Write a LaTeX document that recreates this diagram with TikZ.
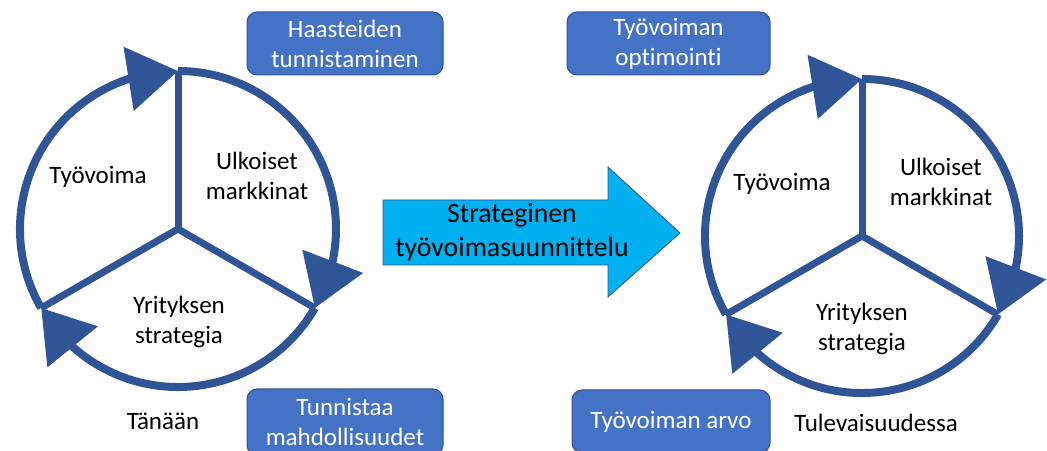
\documentclass[tikz,border=0pt]{standalone}
\usepackage{fontspec}
\setmainfont{Carlito}[Ligatures=NoCommon]
\usetikzlibrary{arrows.meta,bending}
\definecolor{ringblue}{HTML}{2F5597}
\definecolor{boxfill}{HTML}{4472C4}
\definecolor{boxedge}{HTML}{2F528F}
\definecolor{arrowfill}{HTML}{00B0F0}
\begin{document}
\begin{tikzpicture}[x=1pt,y=1pt,
  cyc/.style={draw=ringblue, line width=8pt,
    -{Triangle[length=50pt,width=63pt,flex]}},
  spoke/.style={draw=ringblue, line width=7pt},
  lbl/.style={font=\fontsize{25}{30.5}\selectfont, align=center, inner sep=0pt},
  tag/.style={draw=boxedge, line width=1pt, fill=boxfill, rounded corners=10pt,
    text=white, font=\fontsize{25}{30}\selectfont, align=center, inner sep=0pt},
]
\useasboundingbox (0,0) rectangle (1047,450);
\clip (0,0) rectangle (1047,450);

% ---- left cycle: today ----
\coordinate (lc) at (178,221);
\path (lc) ++(90:158) coordinate (ltop)
      (lc) ++(210:158) coordinate (lleft)
      (lc) ++(-30:158) coordinate (lright);
\draw[spoke] (lc) -- (ltop);
\draw[spoke] (lc) -- (lleft);
\draw[spoke] (lc) -- (lright);
\draw[cyc] (lleft) arc[start angle=210, end angle=90, radius=158];
\draw[cyc] (ltop) arc[start angle=90, end angle=-30, radius=158];
\draw[cyc] (lright) arc[start angle=-30, end angle=-150, radius=158];
\node[lbl] (lwork) at (98,273) {Työvoima};
\node[lbl] (lmarket) at (257,274) {Ulkoiset\\markkinat};
\node[lbl] (lstrat) at (179,128) {Yrityksen\\strategia};
\node[lbl] (today) at (163,29) {Tänään};

% ---- right cycle: future ----
\coordinate (rc) at (862,214);
\path (rc) ++(90:157) coordinate (rtop)
      (rc) ++(210:157) coordinate (rleft)
      (rc) ++(-30:157) coordinate (rright);
\draw[spoke] (rc) -- (rtop);
\draw[spoke] (rc) -- (rleft);
\draw[spoke] (rc) -- (rright);
\draw[cyc] (rleft) arc[start angle=210, end angle=90, radius=157];
\draw[cyc] (rtop) arc[start angle=90, end angle=-30, radius=157];
\draw[cyc] (rright) arc[start angle=-30, end angle=-150, radius=157];
\node[lbl] (rwork) at (782,266) {Työvoima};
\node[lbl] (rmarket) at (941,268) {Ulkoiset\\markkinat};
\node[lbl] (rstrat) at (862,121) {Yrityksen\\strategia};
\node[lbl] (future) at (876,27) {Tulevaisuudessa};

% ---- central block arrow ----
\draw[draw=boxedge, fill=arrowfill, line width=0.8pt]
  (383,250) -- (608,250) -- (608,283) -- (680,217) -- (608,153)
  -- (608,185) -- (383,185) -- cycle;
\node[lbl, font=\fontsize{27.8}{34}\selectfont] (plan) at (512,218)
  {Strateginen\\työvoimasuunnittelu};

% ---- tags ----
\node[tag, minimum width=196pt, minimum height=63pt] (challenges) at (345,406.5)
  {Haasteiden\\tunnistaminen};
\node[tag, minimum width=196pt, minimum height=66pt] (chances) at (345,28)
  {Tunnistaa\\mahdollisuudet};
\node[tag, minimum width=203pt, minimum height=63pt] (optim) at (668.5,406.5)
  {Työvoiman\\optimointi};
\node[tag, minimum width=198pt, minimum height=63pt] (value) at (671,28.5)
  {Työvoiman arvo};
\end{tikzpicture}
\end{document}
